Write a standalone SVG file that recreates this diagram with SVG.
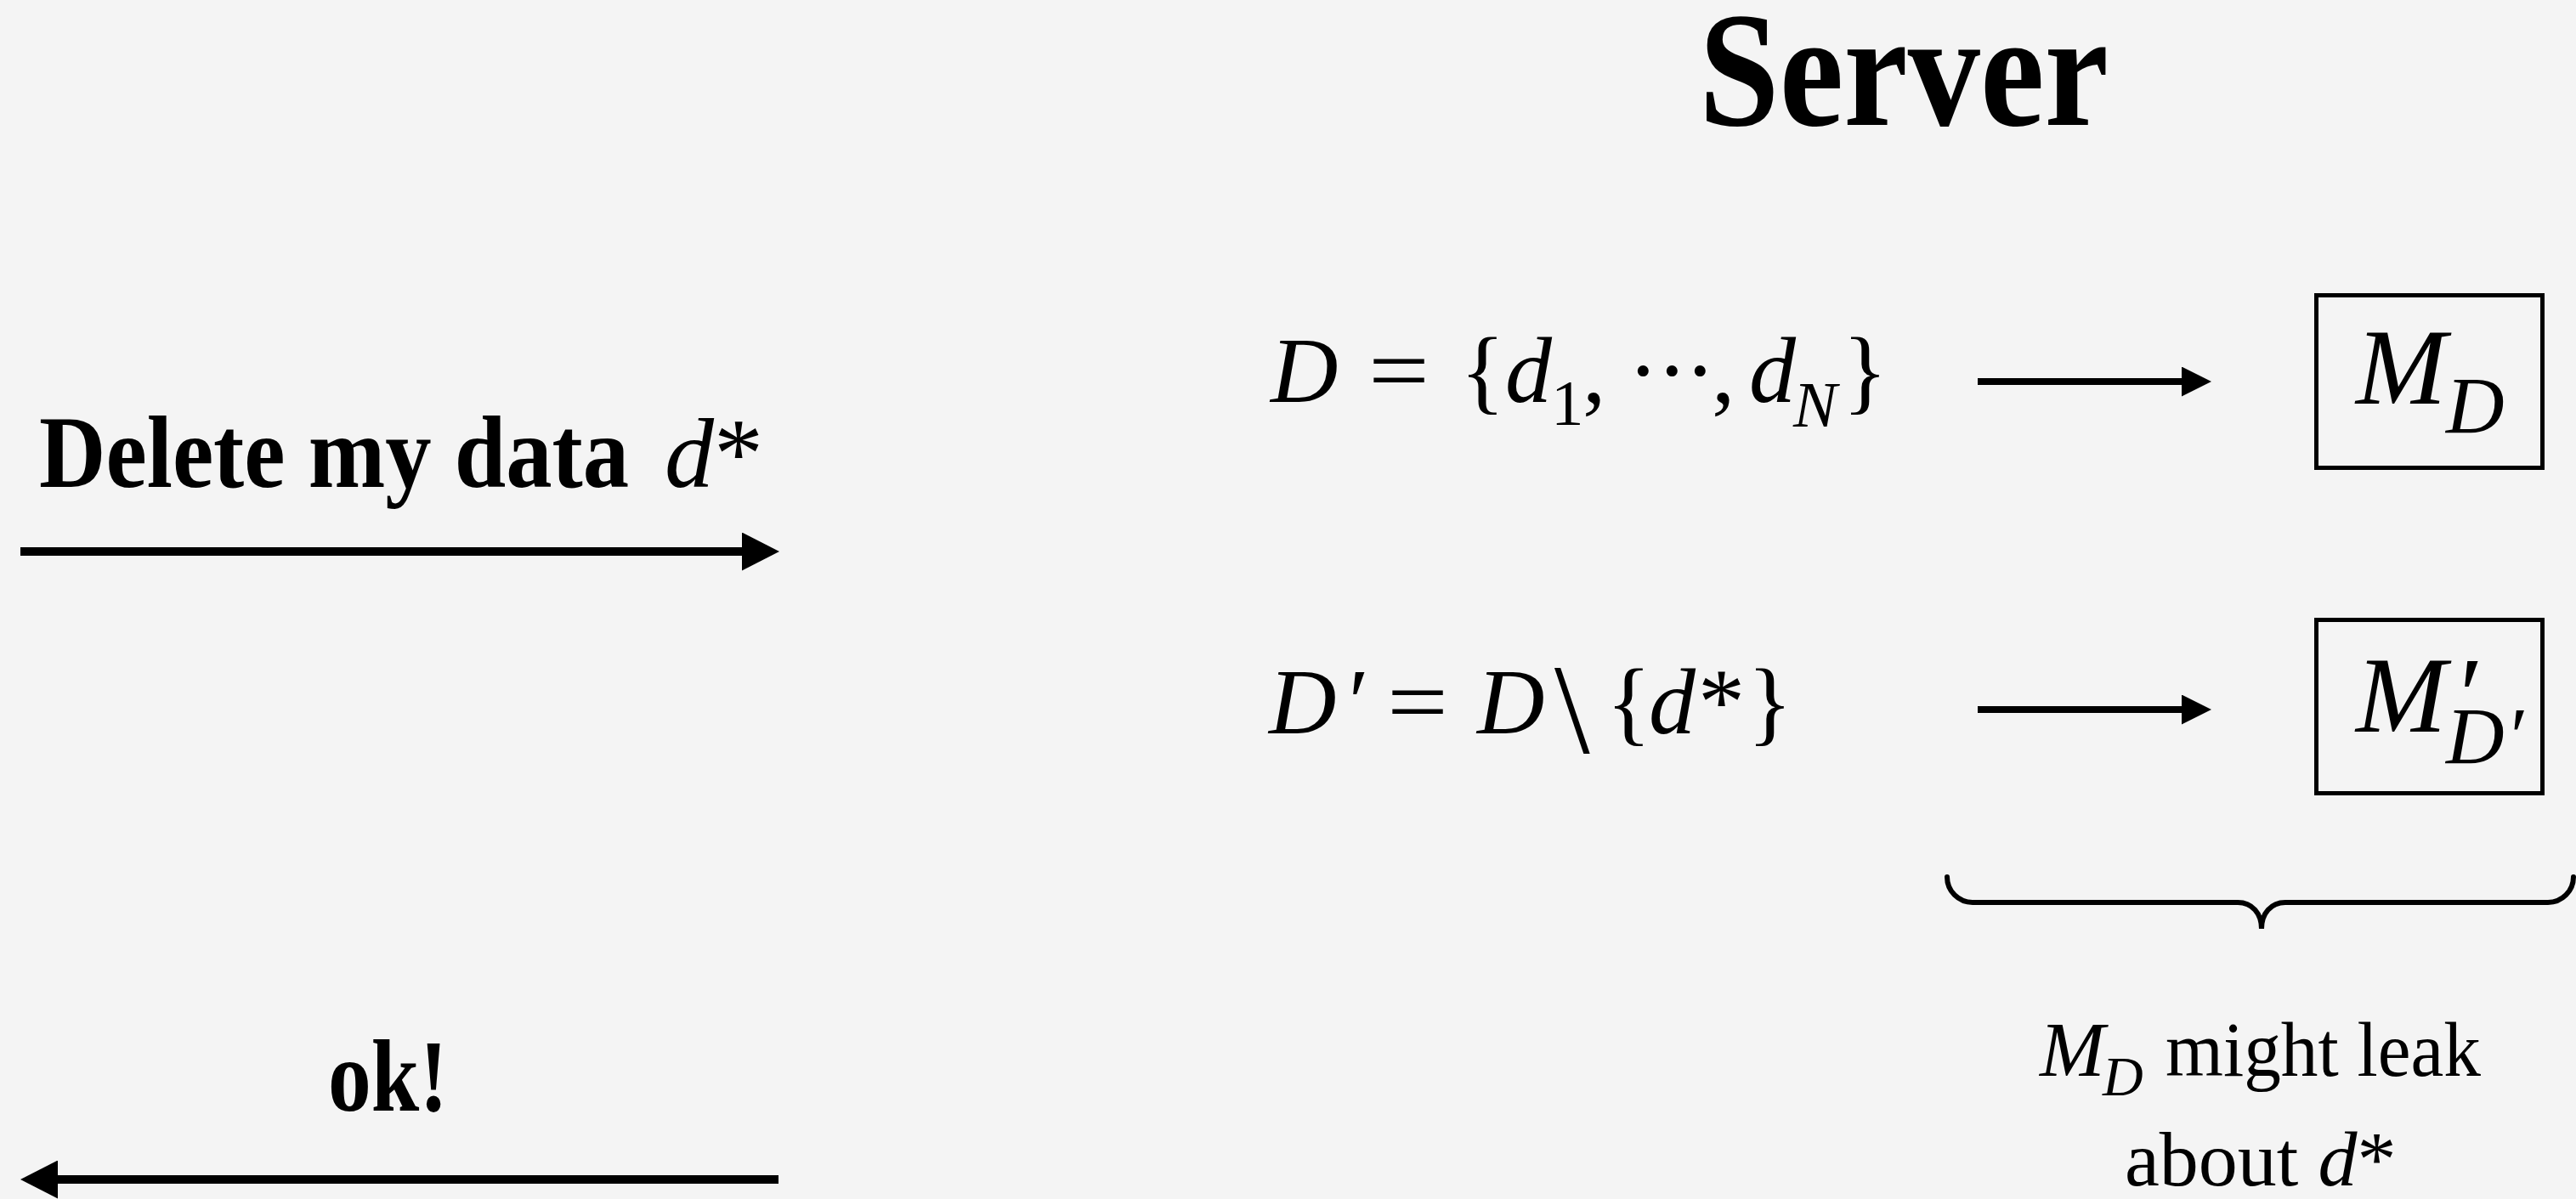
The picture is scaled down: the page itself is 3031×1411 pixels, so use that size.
<svg xmlns="http://www.w3.org/2000/svg" width="3031" height="1411" viewBox="0 0 3031 1411">
<defs>
<style>
.bold{font-family:"Liberation Serif",serif;font-weight:bold;fill:#000}
.math{font-family:"Liberation Serif",serif;font-style:italic;fill:#000}
.rm{font-family:"Liberation Serif",serif;font-style:normal;fill:#000}
.box{fill:none;stroke:#000;stroke-width:5}
.big{stroke:#000;stroke-width:10;fill:none}
.small{stroke:#000;stroke-width:8;fill:none}
</style>
<marker id="headBig" markerUnits="userSpaceOnUse" markerWidth="44" markerHeight="45" refX="0" refY="22.5" orient="auto" viewBox="0 0 44 45">
<path d="M0,0 L44,22.5 L0,45 Z" fill="#000"/>
</marker>
<marker id="headSmall" markerUnits="userSpaceOnUse" markerWidth="35" markerHeight="35" refX="0" refY="17.5" orient="auto" viewBox="0 0 35 35">
<path d="M0,0 L35,17.5 L0,35 Z" fill="#000"/>
</marker>
</defs>
<rect x="0" y="0" width="3031" height="1411" fill="#f4f4f4"/>

<g id="title-server">
<text class="bold" x="1999" y="147" font-size="193" textLength="482" lengthAdjust="spacingAndGlyphs">Server</text>
</g>

<g id="request-label">
<text class="bold" x="46" y="573" font-size="121" textLength="694" lengthAdjust="spacingAndGlyphs">Delete my data</text>
<text class="math" x="782" y="573" font-size="116">d<tspan class="rm">*</tspan></text>
</g>

<g id="reply-label">
<text class="bold" x="386" y="1307" font-size="121" textLength="141" lengthAdjust="spacingAndGlyphs">ok!</text>
</g>

<g id="formula-D">
<text class="math" x="1495" y="473" font-size="110">D</text>
<text class="rm" x="1610" y="473" font-size="110" textLength="72" lengthAdjust="spacingAndGlyphs">=</text>
<text class="rm" x="1718" y="473" font-size="110">{</text>
<text class="math" x="1771" y="473" font-size="110">d</text>
<text class="rm" x="1825" y="500" font-size="77">1</text>
<text class="rm" x="1862" y="473" font-size="110">,</text>
<text class="rm" x="1915 1949 1982" y="473" font-size="110">···</text>
<text class="rm" x="2014" y="473" font-size="110">,</text>
<text class="math" x="2058" y="473" font-size="110">d</text>
<text class="math" x="2110" y="502" font-size="77">N</text>
<text class="rm" x="2168" y="473" font-size="110">}</text>
</g>

<g id="formula-Dprime">
<text class="math" x="1493" y="863" font-size="110">D</text>
<text class="math" x="1580" y="863" font-size="110">′</text>
<text class="rm" x="1632" y="863" font-size="110" textLength="72" lengthAdjust="spacingAndGlyphs">=</text>
<text class="math" x="1738" y="863" font-size="110">D</text>
<text class="rm" x="1829" y="886" font-size="150">\</text>
<text class="rm" x="1890" y="863" font-size="110">{</text>
<text class="math" x="1940" y="863" font-size="110">d</text>
<text class="rm" x="1998" y="863" font-size="110">*</text>
<text class="rm" x="2056" y="863" font-size="110">}</text>
</g>

<g id="model-MD">
<rect class="box" x="2725.5" y="347.5" width="266" height="203"/>
<text class="math" x="2772" y="475" font-size="128">M</text>
<text class="math" x="2878" y="510" font-size="95">D</text>
</g>

<g id="model-MDprime">
<rect class="box" x="2725.5" y="729.5" width="266" height="204"/>
<text class="math" x="2772" y="861" font-size="128">M</text>
<text class="math" x="2886" y="861" font-size="128">′</text>
<text class="math" x="2878" y="899" font-size="95">D</text>
<text class="math" x="2948" y="899" font-size="95">′</text>
</g>

<g id="brace">
<path d="M2291,1032 A30,30 0 0 0 2321,1062 L2633,1062 C2650,1062 2661,1075 2661,1093 C2661,1075 2672,1062 2689,1062 L2998,1062 A30,30 0 0 0 3028,1032" fill="none" stroke="#000" stroke-width="6" stroke-linecap="round"/>
</g>

<g id="leak-note">
<text class="math" x="2400" y="1266" font-size="92">M</text>
<text class="math" x="2474" y="1289" font-size="66">D</text>
<text class="rm" x="2548" y="1266" font-size="92" textLength="371" lengthAdjust="spacingAndGlyphs">might leak</text>
<text class="rm" x="2500" y="1395" font-size="92">about <tspan class="math">d</tspan>*</text>
</g>

<g id="connectors">
<line class="big" x1="24" y1="649" x2="873" y2="649" marker-end="url(#headBig)"/>
<line class="big" x1="916" y1="1388" x2="68" y2="1388" marker-end="url(#headBig)"/>
<line class="small" x1="2327" y1="449" x2="2567" y2="449" marker-end="url(#headSmall)"/>
<line class="small" x1="2327" y1="835" x2="2567" y2="835" marker-end="url(#headSmall)"/>
</g>
</svg>
